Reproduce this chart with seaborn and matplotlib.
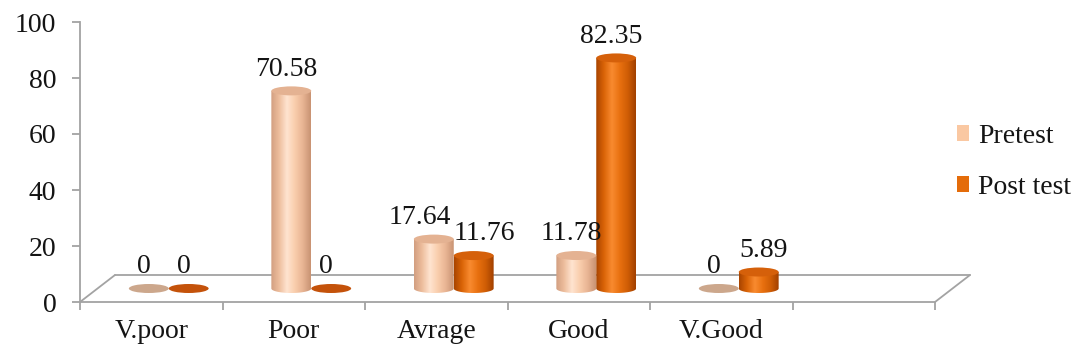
import numpy as np
import pandas as pd
import matplotlib
matplotlib.use("Agg")
import matplotlib.pyplot as plt
import seaborn as sns
from matplotlib.colors import LinearSegmentedColormap
from matplotlib.patches import Ellipse, PathPatch, Patch, ConnectionPatch
from matplotlib.path import Path
from matplotlib.transforms import ScaledTranslation

# ---- data -------------------------------------------------------------
categories = ["V.poor", "Poor", "Avrage", "Good", "V.Good"]
pretest = [0, 70.58, 17.64, 11.78, 0]
post_test = [0, 0, 11.76, 82.35, 5.89]
series = ["Pretest", "Post test"]
y_ticks = [0, 20, 40, 60, 80, 100]

df = pd.DataFrame({
    "level": categories * 2,
    "score": pretest + post_test,
    "test": [series[0]] * len(categories) + [series[1]] * len(categories),
})

# ---- style ------------------------------------------------------------
sns.set_theme(style="white")
plt.rcParams["font.family"] = ["Liberation Serif", "DejaVu Serif"]
FS = 20
TXT = "#141414"
GREY = "#A3A3A3"

base_col = {"Pretest": "#F9C9A5", "Post test": "#E46C0A"}
shade = {
    "Pretest": ["#D29E80", "#EDBD9C", "#FFE4D0", "#F9CDAC", "#E8B493", "#C89272"],
    "Post test": ["#A84400", "#DA6407", "#F98B30", "#E8700F", "#CF5D05", "#A03F00"],
}
top_col = {"Pretest": "#E4B292", "Post test": "#D5600A"}
zero_col = {"Pretest": "#CCA78C", "Post test": "#C4520A"}

# horizontal shift of the value labels (points); neighbours pushed apart
label_dx_default = -3.5
label_dx = {("Pretest", "Avrage"): -10, ("Post test", "Avrage"): 8,
            ("Post test", "V.Good"): 3.5}

fig = plt.figure(figsize=(10.83, 3.62), dpi=100)
ax = fig.add_axes([80 / 1083, 60 / 362, 855 / 1083, 280 / 362])

sns.barplot(data=df, x="level", y="score", hue="test", hue_order=series,
            order=categories, palette=base_col, width=0.56, saturation=1,
            legend=False, ax=ax)

ax.set_xlim(-0.5, 5.5)
ax.set_ylim(0, 100)

# depth of the floor (inches) and the plane the cylinders stand on
depth = (0.35, 0.27)
floor_tr = ax.transData + ScaledTranslation(depth[0], depth[1], fig.dpi_scale_trans)
bar_tr = ax.transData + ScaledTranslation(depth[0] / 2, depth[1] / 2, fig.dpi_scale_trans)

# floor outline
ax.plot([-0.5, 5.5], [0, 0], color=GREY, lw=1.3, transform=floor_tr,
        clip_on=False, zorder=1)
for xe in (-0.5, 5.5):
    cp = ConnectionPatch(xyA=(xe, 0), coordsA=ax.transData,
                         xyB=(xe, 0), coordsB=floor_tr,
                         color=GREY, lw=1.3, arrowstyle="-", zorder=1)
    cp.set_clip_on(False)
    ax.add_artist(cp)

# ellipse height of the cylinder caps, in data units
ppu = ax.transData.transform((0, 1))[1] - ax.transData.transform((0, 0))[1]
eh = 9 / ppu

grad = np.linspace(0, 1, 256).reshape(1, -1)

for name, cont in zip(series, ax.containers):
    cmap = LinearSegmentedColormap.from_list(name, shade[name])
    for cat, bar in zip(categories, cont):
        bar.set_visible(False)
        x0, w, h = bar.get_x(), bar.get_width(), bar.get_height()
        cx = x0 + w / 2
        if h > 0:
            t = np.linspace(np.pi, 2 * np.pi, 48)
            arc = np.column_stack([cx + w / 2 * np.cos(t), eh / 2 * np.sin(t)])
            verts = np.vstack([[[x0, h], [x0, 0]], arc, [[x0 + w, 0], [x0 + w, h], [x0, h]]])
            codes = [Path.MOVETO] + [Path.LINETO] * (len(verts) - 2) + [Path.CLOSEPOLY]
            body = PathPatch(Path(verts, codes), transform=bar_tr,
                             facecolor="none", edgecolor="none")
            ax.add_patch(body)
            im = ax.imshow(grad, cmap=cmap, extent=(x0, x0 + w, -eh / 2, h),
                           aspect="auto", transform=bar_tr,
                           interpolation="bicubic", zorder=2)
            im.set_clip_path(body)
            ax.add_patch(Ellipse((cx, h), w, eh, transform=bar_tr,
                                 facecolor=top_col[name], edgecolor="none",
                                 zorder=3))
        else:
            ax.add_patch(Ellipse((cx, 0), w, eh, transform=bar_tr,
                                 facecolor=zero_col[name], edgecolor="none",
                                 zorder=2))
        dx = label_dx.get((name, cat), label_dx_default)
        ax.annotate(f"{h:g}", xy=(cx, h), xycoords=bar_tr, xytext=(dx, 11),
                    textcoords="offset points", ha="center", va="baseline",
                    fontsize=FS, color=TXT, zorder=5, annotation_clip=False)

ax.set_xlim(-0.5, 5.5)
ax.set_ylim(0, 100)

# axes
for side in ("top", "right"):
    ax.spines[side].set_visible(False)
for side in ("left", "bottom"):
    ax.spines[side].set_color(GREY)
    ax.spines[side].set_linewidth(1.3)

ax.set_yticks(y_ticks)
ax.set_yticklabels([str(v) for v in y_ticks])
ax.set_xticks(range(len(categories)))
ax.set_xticklabels(categories)
ax.set_xticks(np.arange(-0.5, 6, 1), minor=True)
ax.tick_params(axis="y", left=True, direction="out", length=6, width=1.3,
               color=GREY, pad=11, labelsize=FS, labelcolor=TXT)
ax.tick_params(axis="x", which="major", bottom=True, length=0, pad=12,
               labelsize=FS, labelcolor=TXT)
ax.tick_params(axis="x", which="minor", bottom=True, direction="out",
               length=6, width=1.3, color=GREY)
ax.set_xlabel("")
ax.set_ylabel("")
ax.grid(False)

handles = [Patch(facecolor="#FAC8A2", edgecolor="none", label=series[0]),
           Patch(facecolor=base_col[series[1]], edgecolor="none", label=series[1])]
fig.legend(handles=handles, loc="center left",
           bbox_to_anchor=(957 / 1083, 1 - 162 / 362), frameon=False,
           borderpad=0, borderaxespad=0,
           fontsize=FS, handlelength=0.42, handleheight=0.5,
           handletextpad=0.35, labelspacing=0.95, labelcolor=TXT)

fig.savefig("out.png", dpi=100)
